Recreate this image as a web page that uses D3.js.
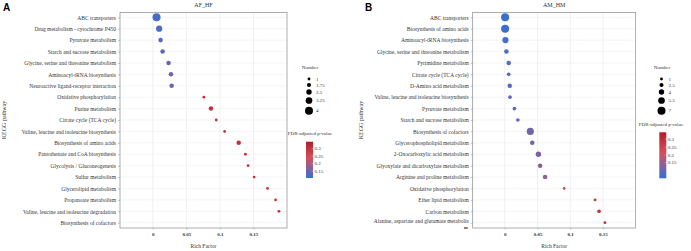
<!DOCTYPE html>
<meta charset="utf-8">
<script src="https://d3js.org/d3.v7.min.js"></script>
<style>
  body { margin: 0; background: #fff; }
  text { font-family: "Liberation Serif", "Times New Roman", serif; fill: #333; }
</style>
<div id="chart"></div>
<script>

// ---- panel A data (AF_HF) ----
var pathwaysA = ["ABC transporters", "Drug metabolism - cytochrome P450", "Pyruvate metabolism",
  "Starch and sucrose metabolism", "Glycine, serine and threonine metabolism", "Aminoacyl-tRNA biosynthesis",
  "Neuroactive ligand-receptor interaction", "Oxidative phosphorylation", "Purine metabolism",
  "Citrate cycle (TCA cycle)", "Valine, leucine and isoleucine biosynthesis", "Biosynthesis of amino acids",
  "Pantothenate and CoA biosynthesis", "Glycolysis / Gluconeogenesis", "Sulfur metabolism",
  "Glycerolipid metabolism", "Propanoate metabolism", "Valine, leucine and isoleucine degradation",
  "Biosynthesis of cofactors"];
var richA   = [0.0055, 0.0094, 0.0115, 0.0145, 0.0234, 0.027, 0.028, 0.076, 0.0866, 0.0945, 0.107, 0.128, 0.138, 0.142, 0.151, 0.171, 0.183, 0.188, null];
var numberA = [4, 3, 2, 2, 2, 2, 2, 1, 2, 1, 1, 2, 1, 1, 1, 1, 1, 1, 1];
var fdrA    = [0.12, 0.125, 0.13, 0.135, 0.15, 0.15, 0.15, 0.3, 0.3, 0.3, 0.3, 0.3, 0.3, 0.3, 0.3, 0.3, 0.3, 0.3, 0.3];
var sizeTicksA = [1, 1.75, 2.5, 3.25, 4];

// ---- panel B data (AM_HM) ----
var pathwaysB = ["ABC transporters", "Biosynthesis of amino acids", "Aminoacyl-tRNA biosynthesis",
  "Glycine, serine and threonine metabolism", "Pyrimidine metabolism", "Citrate cycle (TCA cycle)",
  "D-Amino acid metabolism", "Valine, leucine and isoleucine biosynthesis", "Pyruvate metabolism",
  "Starch and sucrose metabolism", "Biosynthesis of cofactors", "Glycerophospholipid metabolism",
  "2-Oxocarboxylic acid metabolism", "Glyoxylate and dicarboxylate metabolism", "Arginine and proline metabolism",
  "Oxidative phosphorylation", "Ether lipid metabolism", "Carbon metabolism",
  "Alanine, aspartate and glutamate metabolism"];
var richB   = [0.0005, 0.0005, 0.001, 0.0025, 0.006, 0.006, 0.0076, 0.008, 0.0147, 0.02, 0.039, 0.042, 0.0514, 0.054, 0.0616, 0.0907, 0.138, 0.144, 0.153];
var numberB = [7, 7, 5, 3, 3, 2, 3, 2, 2, 2, 6, 3, 4, 3, 3, 1, 1, 2, 1];
var fdrB    = [0.06, 0.06, 0.07, 0.08, 0.08, 0.08, 0.085, 0.09, 0.09, 0.1, 0.11, 0.115, 0.12, 0.13, 0.14, 0.23, 0.28, 0.28, 0.29];
var sizeTicksB = [1, 2.5, 4, 5.5, 7];

var xTicks = [0, 0.05, 0.1, 0.15];
var fdrTicks = [0.3, 0.25, 0.2, 0.15];

var svg = d3.select("#chart").append("svg")
  .attr("width", 691).attr("height", 251);

var defs = svg.append("defs");

function drawPanel(o) {
  var g = svg.append("g");

  var x = d3.scaleLinear().domain([-0.049, 0.2]).range([o.left, o.right]);
  var y = d3.scalePoint().domain(o.pathways).range([17.3, 222.7]);
  var r = d3.scaleLinear().domain(d3.extent(o.sizeTicks)).range([1.4, 4]);
  var color = d3.scaleLinear()
    .domain([o.fdrMin, o.fdrMin + (o.fdrMax - o.fdrMin) * 0.55, o.fdrMax])
    .range(["#3470d8", "#d8505c", "#b01c2a"]);

  // panel letter
  g.append("text").attr("x", o.letterX).attr("y", 11)
    .style("font-family", "Liberation Sans, Arial, sans-serif").style("font-weight", "bold")
    .style("font-size", "10px").style("fill", "#000").text(o.letter);

  // grid
  g.selectAll(".vgrid").data(xTicks).enter().append("line")
    .attr("x1", function (d) { return x(d); }).attr("x2", function (d) { return x(d); })
    .attr("y1", 12.5).attr("y2", 228).attr("stroke", "#e6e6e6").attr("stroke-width", 0.6);
  g.selectAll(".hgrid").data(o.pathways).enter().append("line")
    .attr("x1", o.left).attr("x2", o.right)
    .attr("y1", function (d) { return y(d); }).attr("y2", function (d) { return y(d); })
    .attr("stroke", "#e2e2e2").attr("stroke-width", 0.6).attr("stroke-dasharray", "1.5,1");

  // axes (ticks + labels only; border drawn separately)
  var yAxis = g.append("g").attr("transform", "translate(" + o.left + ",0)")
    .call(d3.axisLeft(y).tickSize(2).tickPadding(2));
  yAxis.select(".domain").remove();
  yAxis.selectAll("line").attr("stroke", "#888").attr("stroke-width", 0.5);
  yAxis.selectAll("text").style("font-size", "5.5px").style("font-family", "Liberation Serif, serif").style("fill", "#333");
  if (o.wrapLast) {
    // the last label wraps in the original, leaving a lone "m" below it
    var lastText = yAxis.selectAll(".tick text").filter(function (d) { return d === o.wrapLast; });
    lastText.text(o.wrapLast.slice(0, -1)).attr("dy", "0.05em");
    g.append("text").attr("x", o.left - 5).attr("y", y(o.wrapLast) + 6)
      .attr("text-anchor", "end").style("font-size", "4.5px").style("font-weight", "bold").style("fill", "#333").text("m");
  }

  var xAxis = g.append("g").attr("transform", "translate(0,228)")
    .call(d3.axisBottom(x).tickValues(xTicks).tickSize(1.5).tickPadding(3)
      .tickFormat(function (d) { return d === 0 ? "0" : d3.format("")(d); }));
  xAxis.select(".domain").remove();
  xAxis.selectAll("line").attr("stroke", "#888").attr("stroke-width", 0.5);
  xAxis.selectAll("text").style("font-size", "5px").style("font-weight", "bold").style("font-family", "Liberation Serif, serif").style("fill", "#333");

  // border
  g.append("rect").attr("x", o.left).attr("y", 12.5)
    .attr("width", o.right - o.left).attr("height", 228 - 12.5)
    .attr("fill", "none").attr("stroke", "#8a8a8a").attr("stroke-width", 0.7);

  // points
  var rows = o.pathways.map(function (p, i) {
    return { path: p, rich: o.rich[i], n: o.number[i], fdr: o.fdr[i] };
  }).filter(function (d) { return d.rich !== null; });
  g.selectAll(".pt").data(rows).enter().append("circle")
    .attr("cx", function (d) { return x(d.rich); })
    .attr("cy", function (d) { return y(d.path); })
    .attr("r", function (d) { return r(d.n); })
    .attr("fill", function (d) { return color(d.fdr); });

  // titles
  g.append("text").attr("x", (o.left + o.right) / 2).attr("y", 7)
    .attr("text-anchor", "middle").style("font-size", "6px").text(o.title);
  g.append("text").attr("x", (o.left + o.right) / 2).attr("y", 248)
    .attr("text-anchor", "middle").style("font-size", "5.5px").text("Rich Factor");
  g.append("text").attr("transform", "translate(" + o.yTitleX + ",120) rotate(-90)")
    .attr("text-anchor", "middle").style("font-size", "6px").text("KEGG pathway");

  // size legend
  var lg = o.legend;
  g.append("text").attr("x", lg.numX).attr("y", 69).attr("text-anchor", "middle")
    .style("font-size", "5px").text("Number");
  var sy = [79, 85, 92, 100.5, 110.7];
  g.selectAll(".sz").data(o.sizeTicks).enter().append("circle")
    .attr("cx", lg.dotX).attr("cy", function (d, i) { return sy[i]; })
    .attr("r", function (d) { return r(d); }).attr("fill", "#000");
  g.selectAll(".szl").data(o.sizeTicks).enter().append("text")
    .attr("x", lg.dotX + 7).attr("y", function (d, i) { return sy[i] + 1.7; })
    .style("font-size", "5px").text(function (d) { return d; });

  // colour legend
  var gid = "grad" + o.letter;
  var grad = defs.append("linearGradient").attr("id", gid)
    .attr("x1", "0").attr("y1", "1").attr("x2", "0").attr("y2", "0");
  d3.range(0, 1.0001, 0.1).forEach(function (t) {
    grad.append("stop").attr("offset", t)
      .attr("stop-color", color(o.fdrMin + t * (o.fdrMax - o.fdrMin)));
  });
  g.append("text").attr("x", lg.fdrTitleX).attr("y", lg.fdrTitleY).attr("text-anchor", "middle")
    .style("font-size", "5px").text("FDR-adjusted p-value");
  var cy = d3.scaleLinear().domain([o.fdrMin, o.fdrMax]).range([lg.barBottom, lg.barTop]);
  g.append("rect").attr("x", lg.barX).attr("y", lg.barTop)
    .attr("width", 7).attr("height", lg.barBottom - lg.barTop).attr("fill", "url(#" + gid + ")");
  g.selectAll(".fl").data(fdrTicks).enter().append("line")
    .attr("x1", lg.barX + 5.5).attr("x2", lg.barX + 7)
    .attr("y1", function (d) { return cy(d); }).attr("y2", function (d) { return cy(d); })
    .attr("stroke", "#fff").attr("stroke-width", 0.4);
  g.selectAll(".ft").data(fdrTicks).enter().append("text")
    .attr("x", lg.barX + 8.5).attr("y", function (d) { return cy(d) + 1.7; })
    .style("font-size", "5px").text(function (d) { return d; });
}

drawPanel({
  letter: "A", letterX: 3, title: "AF_HF", left: 120, right: 287, yTitleX: 6,
  pathways: pathwaysA, rich: richA, number: numberA, fdr: fdrA, sizeTicks: sizeTicksA,
  fdrMin: 0.103, fdrMax: 0.347,
  legend: { numX: 310, dotX: 309, fdrTitleX: 310, fdrTitleY: 134.5, barX: 306, barTop: 141.7, barBottom: 178 }
});

drawPanel({
  letter: "B", letterX: 365, title: "AM_HM", left: 472.7, right: 635.7, yTitleX: 363,
  pathways: pathwaysB, rich: richB, number: numberB, fdr: fdrB, sizeTicks: sizeTicksB,
  fdrMin: 0.052, fdrMax: 0.342, wrapLast: "Alanine, aspartate and glutamate metabolism",
  legend: { numX: 662, dotX: 661.5, fdrTitleX: 661, fdrTitleY: 125.5, barX: 659.3, barTop: 132.3, barBottom: 178.3 }
});

</script>
